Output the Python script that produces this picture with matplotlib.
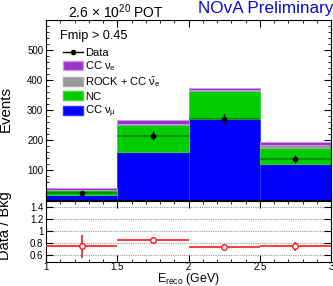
import matplotlib
matplotlib.use("Agg")
import matplotlib.pyplot as plt
from matplotlib.patches import Patch
from matplotlib.lines import Line2D
from matplotlib.ticker import MultipleLocator, FixedLocator
import numpy as np

plt.rcParams['font.family'] = ['Liberation Sans', 'DejaVu Sans']
plt.rcParams['mathtext.fontset'] = 'custom'
plt.rcParams['mathtext.rm'] = 'Liberation Sans'
plt.rcParams['mathtext.it'] = 'Liberation Sans:italic'

# ---- data ----
bin_edges = [1.0, 1.5, 2.0, 2.5, 3.0]
bin_centers = [1.25, 1.75, 2.25, 2.75]
cc_numu = [17, 159, 271, 119]
nc = [16, 91, 93, 55]
rock_ccnuebar = [2, 2, 2, 10]
cc_nue = [5, 13, 8, 8]
data = [24, 214, 270, 137]
data_err = [5, 15, 16, 12]
ratio = [0.76, 0.855, 0.745, 0.75]
ratio_err_lo = [0.20, 0.05, 0.04, 0.08]
ratio_err_hi = [0.17, 0.05, 0.04, 0.08]

labels = ["CC $\\mathrm{\u03bd_e}$", "ROCK + CC $\\mathrm{\\bar{\u03bd}_e}$", "NC", "CC $\\mathrm{\u03bd_\u03bc}$"]
colors = {"numu": "#0000ff", "nc": "#00cc00", "rock": "#999999", "nue": "#9933cc"}
edges = {"numu": "#3333ff", "nc": "#33dd33", "rock": "#aaaaaa", "nue": "#cc99ee"}

W, H = 333, 286
fig = plt.figure(figsize=(W / 100, H / 100), dpi=100)
ax = fig.add_axes([46 / W, 1 - 200 / H, 285 / W, 180 / H])
axr = fig.add_axes([46 / W, 1 - 261.5 / H, 285 / W, 60.5 / H])

widths = np.diff(bin_edges)
left = np.array(bin_edges[:-1])
bottom = np.zeros(4)
for key, vals in [("numu", cc_numu), ("nc", nc), ("rock", rock_ccnuebar), ("nue", cc_nue)]:
    ax.bar(left, vals, width=widths, bottom=bottom, align='edge', color=colors[key],
           edgecolor=edges[key], linewidth=0.6, zorder=2)
    bottom = bottom + np.array(vals)

# data x-extent lines (semi-transparent)
ax.errorbar(bin_centers, data, xerr=widths / 2, fmt='none', ecolor='black', elinewidth=1.2,
            alpha=0.35, zorder=3)
ax.errorbar(bin_centers, data, yerr=data_err, fmt='o', color='black', markersize=3,
            elinewidth=1.0, capsize=0, zorder=4)

ax.set_xlim(1, 3)
ax.set_ylim(0, 600)
ax.yaxis.set_major_locator(FixedLocator([100, 200, 300, 400, 500]))
ax.yaxis.set_minor_locator(MultipleLocator(20))
ax.xaxis.set_major_locator(MultipleLocator(0.5))
ax.xaxis.set_minor_locator(MultipleLocator(0.1))
ax.tick_params(which='both', direction='in', top=True, right=True, labelsize=7, pad=2)
ax.tick_params(which='major', length=5)
ax.tick_params(which='minor', length=2.5)
ax.tick_params(axis='x', labelbottom=False)

handles = [Line2D([0], [0], color='black', marker='o', markersize=3, lw=1.0),
           Patch(facecolor=colors["nue"], edgecolor=edges["nue"]),
           Patch(facecolor=colors["rock"], edgecolor=edges["rock"]),
           Patch(facecolor=colors["nc"], edgecolor=edges["nc"]),
           Patch(facecolor=colors["numu"], edgecolor=edges["numu"])]
leg = ax.legend(handles, ["Data"] + labels, loc='upper left', bbox_to_anchor=(0.035, 0.885),
                frameon=False, fontsize=8, handlelength=1.8, handleheight=0.9,
                handletextpad=0.25, labelspacing=0.17, borderpad=0.1)
ax.text(0.05, 0.91, "Fmip > 0.45", transform=ax.transAxes, fontsize=9.2, va='center', ha='left')

fig.text(116 / W, 1 - 12 / H, "2.6 \u00d7 10$^{20}$ POT", fontsize=10, ha='center', va='center')
fig.text(333 / W, 1 - 9 / H, "NOvA Preliminary", fontsize=12.3, color='#0a0ad8', ha='right', va='center')

# ratio panel
for y in [0.6, 0.8, 1.0, 1.2, 1.4]:
    axr.axhline(y, color='#999999', lw=0.8, ls=(0, (1, 1)), zorder=1)
axr.errorbar(bin_centers, ratio, xerr=widths / 2, yerr=[ratio_err_lo, ratio_err_hi], fmt='o',
             color='#ff1a1a', mfc='white', mec='#ff1a1a', markersize=4, mew=1.0,
             elinewidth=1.2, capsize=0, zorder=3)
axr.set_xlim(1, 3)
axr.set_ylim(0.5, 1.5)
axr.yaxis.set_major_locator(FixedLocator([0.6, 0.8, 1.0, 1.2, 1.4]))
axr.set_yticklabels(["0.6", "0.8", "1", "1.2", "1.4"])
axr.xaxis.set_major_locator(FixedLocator([1, 1.5, 2, 2.5, 3]))
axr.set_xticklabels(["1", "1.5", "2", "2.5", "3"])
axr.xaxis.set_minor_locator(MultipleLocator(0.1))
axr.tick_params(which='both', direction='in', top=True, right=True, labelsize=7, pad=2)
axr.tick_params(axis='x', pad=0)
axr.tick_params(which='major', length=5)
axr.tick_params(which='minor', length=2.5)

# axis titles
fig.text(5.5 / W, 1 - 109 / H, "Events", fontsize=10.8, rotation=90, ha='center', va='center')
fig.text(5.5 / W, 1 - 226 / H, "Data / Bkg", fontsize=10.5, rotation=90, ha='center', va='center')
fig.text(188 / W, 1 - 282.3 / H, "E$_{\\mathrm{reco}}$ (GeV)", fontsize=8.8, ha='center', va='baseline')

fig.savefig("out.png", dpi=100)
